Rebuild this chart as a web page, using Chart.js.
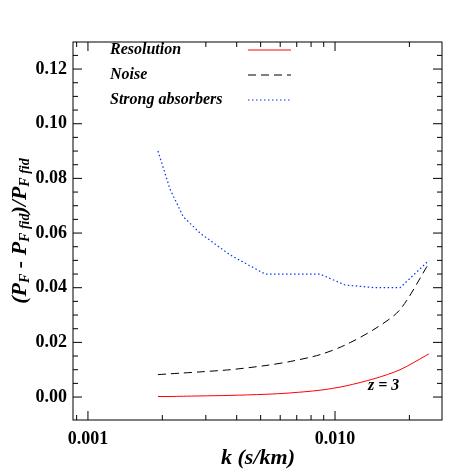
<!DOCTYPE html>
<html>
<head>
<meta charset="UTF-8">
<script src="https://cdn.jsdelivr.net/npm/chart.js"></script>
<style>
  body { margin: 0; background: #fff; }
  #wrap { width: 472px; height: 472px; }
</style>
</head>
<body>
<div id="wrap"><canvas id="c"></canvas></div>
<script>
const kValues = [0.00192, 0.00215, 0.00243, 0.00284, 0.00376, 0.00521, 0.00658, 0.00869, 0.01097, 0.01452, 0.01833, 0.0240];
const resolution = [0.0002, 0.0002, 0.0003, 0.0004, 0.0006, 0.0010, 0.0015, 0.0025, 0.0040, 0.0068, 0.0100, 0.0158];
const noise = [0.0082, 0.0085, 0.0088, 0.0092, 0.0100, 0.0115, 0.0130, 0.0155, 0.0190, 0.0250, 0.0320, 0.0490];
const absorbers = [0.090, 0.076, 0.066, 0.060, 0.052, 0.045, 0.045, 0.045, 0.041, 0.040, 0.040, 0.050];
const yTicks = [0, 0.02, 0.04, 0.06, 0.08, 0.10, 0.12];
const xTicks = [0.001, 0.01];

const pts = arr => arr.map((v, i) => ({ x: kValues[i], y: v }));
const serif = '"Liberation Serif", "DejaVu Serif", serif';

const framePlugin = {
  id: 'frame',
  afterDraw(chart) {
    const { ctx, chartArea: a, scales: { x, y } } = chart;
    ctx.save();
    ctx.strokeStyle = '#000';
    ctx.lineWidth = 1;
    ctx.strokeRect(a.left, a.top, a.right - a.left, a.bottom - a.top);
    // inward ticks
    ctx.beginPath();
    for (let d = 0.0001; d < 0.1; d *= 10) {
      for (let m = 1; m < 10; m++) {
        const v = d * m;
        if (v < x.min || v > x.max) continue;
        const px = x.getPixelForValue(v);
        const len = m === 1 ? 9 : 5;
        ctx.moveTo(px, a.bottom); ctx.lineTo(px, a.bottom - len);
        ctx.moveTo(px, a.top); ctx.lineTo(px, a.top + len);
      }
    }
    for (let v = 0; v <= 0.13; v += 0.005) {
      const py = y.getPixelForValue(v);
      const major = Math.round(v * 1000) % 20 === 0;
      const len = major ? 9 : 5;
      ctx.moveTo(a.left, py); ctx.lineTo(a.left + len, py);
      ctx.moveTo(a.right, py); ctx.lineTo(a.right - len, py);
    }
    ctx.stroke();

    // tick labels
    ctx.fillStyle = '#000';
    ctx.font = 'bold 18px ' + serif;
    ctx.textBaseline = 'middle';
    ctx.textAlign = 'right';
    yTicks.forEach(v => ctx.fillText(v.toFixed(2), a.left - 6, y.getPixelForValue(v)));
    ctx.textAlign = 'center';
    ctx.textBaseline = 'top';
    xTicks.forEach(v => ctx.fillText(v.toFixed(3), x.getPixelForValue(v), a.bottom + 10));

    // legend
    ctx.textAlign = 'left';
    ctx.textBaseline = 'middle';
    ctx.font = 'bold italic 16px ' + serif;
    const items = [
      ['Resolution', '#ff0000', []],
      ['Noise', '#000', [8, 5]],
      ['Strong absorbers', '#0033ff', [1.5, 2.5]]
    ];
    items.forEach((it, i) => {
      const yy = 50 + i * 25;
      ctx.fillStyle = '#000';
      ctx.fillText(it[0], 110, yy);
      ctx.beginPath();
      ctx.strokeStyle = it[1];
      ctx.setLineDash(it[2]);
      ctx.moveTo(248, yy); ctx.lineTo(291, yy);
      ctx.stroke();
    });
    ctx.setLineDash([]);
    ctx.fillText('z = 3', 368, 386);

    // axis titles
    ctx.font = 'bold italic 22px ' + serif;
    ctx.textAlign = 'center';
    ctx.fillText('k (s/km)', 258, 458);
    ctx.translate(20, 231);
    ctx.rotate(-Math.PI / 2);
    ctx.textAlign = 'left';
    const parts = [['(P', 22, 0], ['F', 14, 5], [' - P', 22, 0], ['F fid', 14, 5], [')/P', 22, 0], ['F fid', 14, 5]];
    let total = 0;
    parts.forEach(p => { ctx.font = 'bold italic ' + p[1] + 'px ' + serif; total += ctx.measureText(p[0]).width; });
    let xx = -total / 2;
    parts.forEach(p => {
      ctx.font = 'bold italic ' + p[1] + 'px ' + serif;
      ctx.fillText(p[0], xx, p[2]);
      xx += ctx.measureText(p[0]).width;
    });
    ctx.restore();
  }
};

new Chart(document.getElementById('c'), {
  type: 'line',
  data: {
    datasets: [
      { data: pts(resolution), borderColor: '#ff0000', borderWidth: 1, pointRadius: 0, tension: 0.3 },
      { data: pts(noise), borderColor: '#000', borderWidth: 1, borderDash: [8, 5], pointRadius: 0, tension: 0.3 },
      { data: pts(absorbers), borderColor: '#0033ff', borderWidth: 1.2, borderDash: [1.5, 2.5], pointRadius: 0 }
    ]
  },
  options: {
    responsive: true,
    maintainAspectRatio: false,
    animation: false,
    layout: { padding: { top: 42, right: 30, left: 0, bottom: 0 } },
    plugins: { legend: { display: false }, tooltip: { enabled: false } },
    scales: {
      x: {
        type: 'logarithmic',
        min: 0.00087, max: 0.0271,
        grid: { display: false },
        border: { display: false },
        ticks: { display: false },
        afterFit: s => { s.height = 52; }
      },
      y: {
        min: -0.0084, max: 0.1299,
        grid: { display: false },
        border: { display: false },
        ticks: { display: false },
        afterFit: s => { s.width = 73; }
      }
    }
  },
  plugins: [framePlugin]
});
</script>
</body>
</html>
